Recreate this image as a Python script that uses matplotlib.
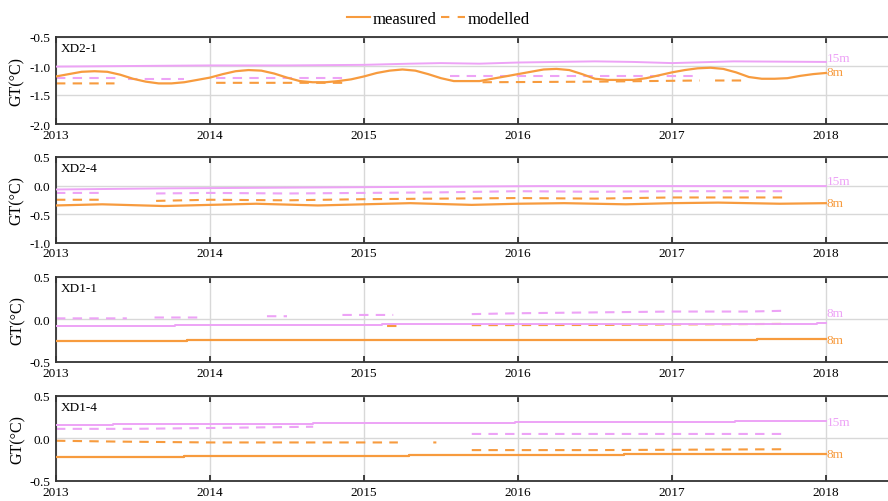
import numpy as np
import matplotlib
matplotlib.use("Agg")
import matplotlib.pyplot as plt
from matplotlib.lines import Line2D

plt.rcParams["font.family"] = ["Liberation Serif", "DejaVu Serif"]
plt.rcParams["axes.unicode_minus"] = False

ORANGE = "#F79B3E"
PINK = "#EDA3F6"
nan = np.nan

years = [2013, 2014, 2015, 2016, 2017, 2018]
panel_names = ["XD2-1", "XD2-4", "XD1-1", "XD1-4"]
panel_ylims = [(-2.0, -0.5), (-1.0, 0.5), (-0.5, 0.5), (-0.5, 0.5)]
depth_labels = [("15m", "8m"), ("15m", "8m"), ("8m", "8m"), ("15m", "8m")]

# XD2-1 -- monthly measured series
xd21_months = 2013 + np.arange(61) / 12
xd21_meas_8 = [
    -1.18, -1.14, -1.10, -1.09, -1.10, -1.15, -1.22, -1.27, -1.30, -1.30, -1.28, -1.24,
    -1.20, -1.14, -1.09, -1.07, -1.08, -1.13, -1.20, -1.26, -1.28, -1.28, -1.26, -1.23,
    -1.18, -1.12, -1.08, -1.06, -1.08, -1.14, -1.21, -1.26, -1.26, -1.26, -1.22, -1.18,
    -1.14, -1.10, -1.06, -1.05, -1.07, -1.14, -1.22, -1.24, -1.24, -1.24, -1.21, -1.16,
    -1.11, -1.07, -1.04, -1.03, -1.05, -1.11, -1.19, -1.22, -1.22, -1.21, -1.17, -1.14,
    -1.12,
]
xd21_t15 = [2013.0, 2013.5, 2014.0, 2014.5, 2015.0, 2015.3, 2015.5, 2015.75, 2016.0,
            2016.5, 2016.75, 2017.0, 2017.4, 2018.0]
xd21_meas_15 = [-1.01, -1.00, -0.99, -0.99, -0.98, -0.96, -0.95, -0.96, -0.94,
                -0.92, -0.93, -0.95, -0.92, -0.93]
xd21_mod15_t = [2013.0, 2013.39, nan, 2013.47, 2013.83, nan, 2014.04, 2014.88, nan,
                2015.56, 2016.0, 2016.73, 2017.14]
xd21_mod15 = [-1.21, -1.21, nan, -1.22, -1.22, nan, -1.21, -1.21, nan,
              -1.18, -1.18, -1.18, -1.18]
xd21_mod8_t = [2013.0, 2013.38, nan, 2014.04, 2014.88, nan, 2015.77, 2016.5, 2017.18,
               nan, 2017.28, 2017.46]
xd21_mod8 = [-1.30, -1.30, nan, -1.29, -1.29, nan, -1.28, -1.27, -1.25,
             nan, -1.25, -1.25]

# XD2-4
xd24_t15 = [2013.0, 2013.73, 2014.96, 2016.14, 2018.0]
xd24_meas_15 = [-0.07, -0.05, -0.03, -0.01, -0.01]
xd24_t8 = [2013.0, 2013.3, 2013.7, 2014.0, 2014.3, 2014.7, 2015.0, 2015.3, 2015.7,
           2016.0, 2016.3, 2016.7, 2017.0, 2017.3, 2017.7, 2018.0]
xd24_meas_8 = [-0.35, -0.33, -0.36, -0.34, -0.32, -0.35, -0.33, -0.31, -0.34,
               -0.32, -0.31, -0.33, -0.31, -0.30, -0.32, -0.31]
xd24_mod_t = [2013.0, 2013.3, nan, 2013.65, 2014.0, 2014.5, 2015.0, 2015.5, 2016.0,
              2016.5, 2017.0, 2017.73]
xd24_mod15 = [-0.13, -0.13, nan, -0.14, -0.13, -0.14, -0.13, -0.12, -0.10,
              -0.11, -0.10, -0.10]
xd24_mod8 = [-0.25, -0.25, nan, -0.27, -0.25, -0.26, -0.24, -0.23, -0.22,
             -0.23, -0.21, -0.21]

# XD1-1
xd11_t15 = [2013.0, 2013.77, 2015.12, 2017.94, 2018.0]
xd11_meas_15 = [-0.075, -0.065, -0.058, -0.045, -0.045]
xd11_t8 = [2013.0, 2013.85, 2017.55, 2018.0]
xd11_meas_8 = [-0.255, -0.245, -0.237, -0.237]
xd11_mod15_t = [2013.0, 2013.46, nan, 2013.64, 2013.95, nan, 2014.37, 2014.5, nan,
                2014.86, 2015.19, nan, 2015.7, 2016.0, 2016.5, 2017.0, 2017.5, 2017.75]
xd11_mod15 = [0.01, 0.01, nan, 0.02, 0.02, nan, 0.035, 0.035, nan,
              0.05, 0.05, nan, 0.06, 0.07, 0.08, 0.09, 0.09, 0.10]
xd11_mod8_t = [2015.15, 2015.22, nan, 2015.7, 2016.5, 2017.0, 2017.75]
xd11_mod8 = [-0.08, -0.08, nan, -0.07, -0.068, -0.062, -0.055]

# XD1-4
xd14_t15 = [2013.0, 2013.37, 2014.67, 2015.98, 2017.41, 2018.0]
xd14_meas_15 = [0.155, 0.17, 0.18, 0.19, 0.20, 0.20]
xd14_t8 = [2013.0, 2013.83, 2015.29, 2016.69, 2018.0]
xd14_meas_8 = [-0.218, -0.206, -0.198, -0.186, -0.186]
xd14_mod15_t = [2013.0, 2013.5, 2014.0, 2014.67, nan, 2015.7, 2016.5, 2017.73]
xd14_mod15 = [0.11, 0.11, 0.12, 0.135, nan, 0.05, 0.05, 0.05]
xd14_mod8_t = [2013.0, 2013.4, 2014.0, 2015.22, nan, 2015.45, 2015.47, nan,
               2015.7, 2016.5, 2017.73]
xd14_mod8 = [-0.03, -0.04, -0.05, -0.05, nan, -0.05, -0.05, nan,
             -0.14, -0.14, -0.13]

panels = [
    dict(t15=xd21_t15, m15=xd21_meas_15, t8=xd21_months, m8=xd21_meas_8,
         mt15=xd21_mod15_t, d15=xd21_mod15, mt8=xd21_mod8_t, d8=xd21_mod8,
         step=False, lab=(-0.867, -1.11)),
    dict(t15=xd24_t15, m15=xd24_meas_15, t8=xd24_t8, m8=xd24_meas_8,
         mt15=xd24_mod_t, d15=xd24_mod15, mt8=xd24_mod_t, d8=xd24_mod8,
         step=False, lab=(0.087, -0.306)),
    dict(t15=xd11_t15, m15=xd11_meas_15, t8=xd11_t8, m8=xd11_meas_8,
         mt15=xd11_mod15_t, d15=xd11_mod15, mt8=xd11_mod8_t, d8=xd11_mod8,
         step=True, lab=(0.073, -0.241)),
    dict(t15=xd14_t15, m15=xd14_meas_15, t8=xd14_t8, m8=xd14_meas_8,
         mt15=xd14_mod15_t, d15=xd14_mod15, mt8=xd14_mod8_t, d8=xd14_mod8,
         step=True, lab=(0.187, -0.186)),
]

W, H = 888, 502
fig = plt.figure(figsize=(W / 100, H / 100), dpi=100)
tops = [38, 158, 277.7, 396.7]
bottoms = [125, 243.5, 362.7, 481.7]
left = 56 / W
dash = (0, (4.5, 3.5))

for i, p in enumerate(panels):
    ax = fig.add_axes([left, 1 - bottoms[i] / H, 1 - left, (bottoms[i] - tops[i]) / H])
    ds = "steps-post" if p["step"] else "default"
    ax.plot(p["t15"], p["m15"], color=PINK, lw=1.4, drawstyle=ds, zorder=3)
    ax.plot(p["t8"], p["m8"], color=ORANGE, lw=1.6, drawstyle=ds, zorder=3)
    ax.plot(p["mt15"], p["d15"], color=PINK, lw=1.5, ls=dash, zorder=2)
    ax.plot(p["mt8"], p["d8"], color=ORANGE, lw=1.5, ls=dash, zorder=2)

    ax.set_xlim(2013, 2018.403)
    lo, hi = panel_ylims[i]
    ax.set_ylim(lo, hi)
    ax.set_xticks(years)
    ax.set_xticklabels([str(y) for y in years])
    ax.set_yticks(np.arange(hi, lo - 0.01, -0.5))
    ax.yaxis.set_major_formatter(matplotlib.ticker.FormatStrFormatter("%.1f"))
    ax.grid(True, color="#d8d8d8", lw=1.0, zorder=0)
    ax.set_axisbelow(True)
    ax.tick_params(axis="both", direction="in", length=4, width=1.2, color="#222222",
                   labelsize=9.5, top=True)
    ax.tick_params(axis="x", pad=3.5)
    ax.tick_params(axis="y", length=0, pad=4)
    for side in ["left", "top", "bottom"]:
        ax.spines[side].set_color("#333333")
        ax.spines[side].set_linewidth(1.3)
    ax.spines["right"].set_visible(False)
    ax.set_ylabel("GT(°C)", fontsize=11.5, labelpad=3)

    ax.text(0.006, 0.94, panel_names[i], transform=ax.transAxes, ha="left", va="top",
            fontsize=9.5)
    l15, l8 = depth_labels[i]
    ax.text(2018.005, p["lab"][0], l15, color=PINK, fontsize=9.5, ha="left", va="center")
    ax.text(2018.005, p["lab"][1], l8, color=ORANGE, fontsize=9.5, ha="left", va="center")

handles = [Line2D([], [], color=ORANGE, lw=1.5),
           Line2D([], [], color=ORANGE, lw=1.5, ls=(0, (4, 4)))]
fig.legend(handles, ["measured", "modelled"], loc="center", bbox_to_anchor=(438 / W, 1 - 20 / H),
           ncol=2, frameon=False, fontsize=12, handlelength=1.4, handletextpad=0.15,
           columnspacing=0.3)

fig.savefig("out.png", dpi=100)
